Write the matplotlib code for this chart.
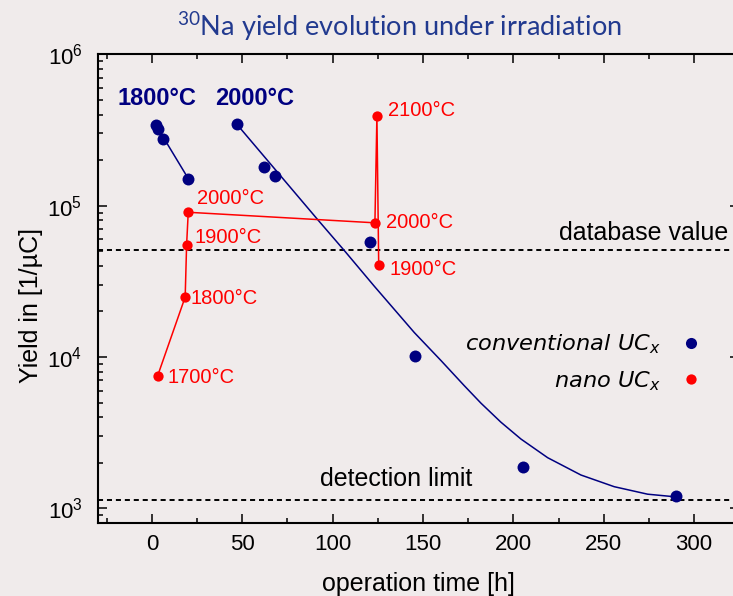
import numpy as np
from matplotlib import pyplot as plt
from matplotlib.lines import Line2D

# conventional UCx, 1800 C run
t_conv18 = [2.2, 3.2, 5.9, 20.1]
y_conv18 = [3.41e5, 3.2e5, 2.76e5, 1.51e5]

# conventional UCx, 2000 C run
t_conv20 = [46.9, 62.2, 68.2, 120.5, 145.5, 205.5, 290.0]
y_conv20 = [3.46e5, 1.79e5, 1.58e5, 5.74e4, 1.01e4, 1.87e3, 1.2e3]

# fitted curve through the 2000 C run
t_fit = [46.9, 91.7, 106.4, 123.0, 145.2, 160.0, 172.8, 182.1, 193.1, 204.2, 219.0, 237.4, 255.8, 274.3, 290.0]
y_fit = [3.46e5, 8.09e4, 5.06e4, 2.94e4, 1.45e4, 9.46e3, 6.47e3, 4.95e3, 3.71e3, 2.87e3, 2.16e3, 1.66e3, 1.39e3, 1.24e3, 1.19e3]

# nano UCx
t_nano = [3.2, 18.4, 19.2, 20.1, 123.4, 124.5, 125.5]
y_nano = [7.53e3, 2.49e4, 5.53e4, 9.04e4, 7.7e4, 3.91e5, 4.03e4]
temp_nano = ['1700°C', '1800°C', '1900°C', '2000°C', '2000°C', '2100°C', '1900°C']

database_value = 5.06e4
detection_limit = 1.13e3

bg = '#f0ebeb'
navy = '#000080'
red = '#ff0000'

plt.rcParams['font.family'] = ['Liberation Sans', 'DejaVu Sans']

fig = plt.figure(figsize=(7.33, 5.96), dpi=100, facecolor=bg)
ax = fig.add_axes([0.1333, 0.1225, 0.8752, 0.7864], facecolor=bg)

ax.set_yscale('log')
ax.set_xlim(-30, 325)
ax.set_ylim(800, 1e6)

# reference lines
ax.axhline(database_value, color='black', lw=1.4, dashes=(2.6, 2.0))
ax.axhline(detection_limit, color='black', lw=1.4, dashes=(2.6, 2.0))

# blue fit lines + points
ax.plot([t_conv18[0], t_conv18[-1]], [y_conv18[0], y_conv18[-1]], color=navy, lw=1.1)
ax.plot(t_fit, y_fit, color=navy, lw=1.1)
ax.plot(t_conv18, y_conv18, 'o', color=navy, ms=8.6, mec='none')
ax.plot(t_conv20, y_conv20, 'o', color=navy, ms=8.6, mec='none')

# red nano series
ax.plot(t_nano, y_nano, '-', color=red, lw=1.1)
ax.plot(t_nano, y_nano, 'o', color=red, ms=7.4, mec='none')

offs = [(7, -1), (4, -1), (6, 5), (6, 10), (8, 0), (8, 4), (8, -3)]
for t, y, s, o in zip(t_nano, y_nano, temp_nano, offs):
    ax.annotate(s, xy=(t, y), xytext=o, textcoords='offset points',
                color=red, fontsize=14.5, ha='left', va='center')

ax.text(-18.8, 4.6e5, '1800°C', color=navy, fontsize=17, fontweight='bold', va='baseline')
ax.text(34.9, 4.6e5, '2000°C', color=navy, fontsize=17, fontweight='bold', va='baseline')

ax.annotate('database value', xy=(0.9826, database_value), xycoords=('axes fraction', 'data'),
            xytext=(0, 7.7), textcoords='offset points', ha='right', va='baseline', fontsize=18)
ax.annotate('detection limit', xy=(0.465, detection_limit), xycoords=('axes fraction', 'data'),
            xytext=(0, 10), textcoords='offset points', ha='center', va='baseline', fontsize=18)

# legend
handles = [Line2D([], [], ls='none', marker='o', color=navy, ms=8, mec='none'),
           Line2D([], [], ls='none', marker='o', color=red, ms=7.4, mec='none')]
leg = ax.legend(handles, ['conventional UC$_x$', 'nano UC$_x$'], loc='center right',
                bbox_to_anchor=(0.967, 0.342), frameon=False, markerfirst=False,
                handlelength=0.6, handletextpad=1.03, labelspacing=0.57,
                prop={'family': 'DejaVu Sans', 'style': 'italic', 'size': 16.2})

# axes styling
ax.set_xticks(np.arange(0, 301, 50))
ax.set_xticks(np.arange(-25, 326, 25), minor=True)
ax.tick_params(which='both', direction='in', top=True, right=True, width=1.1, labelsize=16, colors='black')
ax.tick_params(which='major', length=6.5)
ax.tick_params(which='minor', length=3.6)
ax.tick_params(axis='x', pad=8)
ax.tick_params(axis='y', pad=11)
for sp in ax.spines.values():
    sp.set_linewidth(1.5)

ax.set_xlabel('operation time [h]', fontsize=18, labelpad=12)
ax.set_ylabel('Yield in [1/µC]', fontsize=18)
ax.yaxis.set_label_coords(-0.086, 0.463)

fig.text(0.545, 1 - 26.7 / 596, r'$\mathdefault{^{30}}$Na yield evolution under irradiation',
         color='#223a8f', fontsize=19.5, family='Lato', ha='center', va='center')

fig.savefig('out.png', dpi=100, facecolor=bg)
